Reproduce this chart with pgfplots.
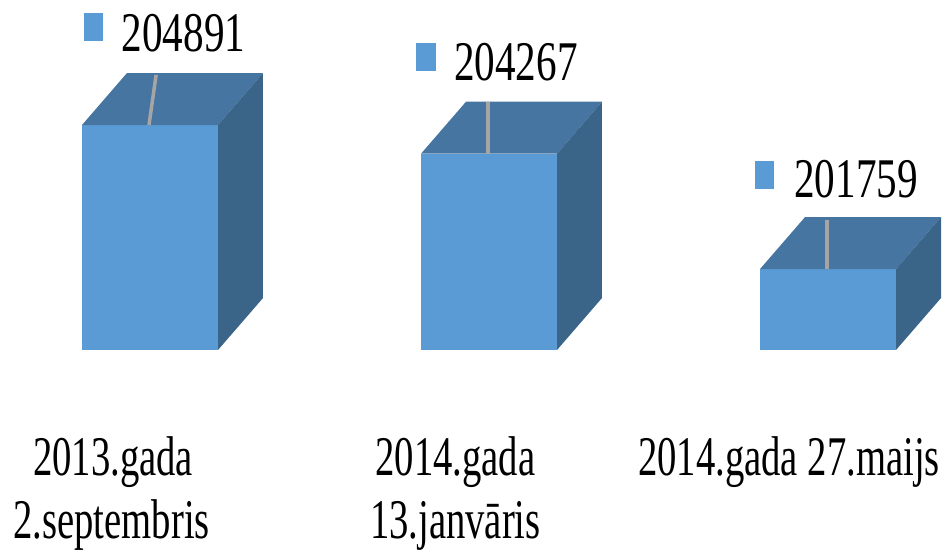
\documentclass[border=0pt]{standalone}
\usepackage{pgfplots}
\usepackage{fontspec}
\pgfplotsset{compat=1.18}
\newfontfamily\lab[FakeStretch=0.69]{Liberation Serif}
\newfontfamily\labv[FakeStretch=0.735]{Liberation Serif}
\definecolor{front}{HTML}{5B9BD5}
\definecolor{topf}{HTML}{4675A2}
\definecolor{sidef}{HTML}{3A6488}
\definecolor{lead}{HTML}{A5A5A5}
\tikzset{lbl/.style={anchor=base, font=\lab\fontsize{56}{60}\selectfont, text=black, inner sep=0pt, outer sep=0pt},
         val/.style={anchor=base, font=\labv\fontsize{56}{60}\selectfont, text=black, inner sep=0pt, outer sep=0pt}}
\begin{document}
\begin{tikzpicture}
\path[use as bounding box] (0,0) rectangle (945pt,551pt);
\begin{axis}[
  at={(0,0)}, anchor=south west,
  scale only axis, width=945pt, height=551pt,
  xmin=-0.44248, xmax=2.34513, ymin=195630, ymax=207609,
  hide axis, clip=false,
]
% fronts
\addplot[fill=front,draw=none] coordinates {(-0.2006,200000)(0.2006,200000)(0.2006,204891)(-0.2006,204891)} -- cycle;
\addplot[fill=front,draw=none] coordinates {(0.7994,200000)(1.2006,200000)(1.2006,204267)(0.7994,204267)} -- cycle;
\addplot[fill=front,draw=none] coordinates {(1.7994,200000)(2.2006,200000)(2.2006,201759)(1.7994,201759)} -- cycle;
% tops
\addplot[fill=topf,draw=none] coordinates {(-0.2006,204891)(0.2006,204891)(0.3333,206021)(-0.0679,206021)} -- cycle;
\addplot[fill=topf,draw=none] coordinates {(0.7994,204267)(1.2006,204267)(1.3333,205397)(0.9321,205397)} -- cycle;
\addplot[fill=topf,draw=none] coordinates {(1.7994,201759)(2.2006,201759)(2.3333,202889)(1.9321,202889)} -- cycle;
% sides
\addplot[fill=sidef,draw=none] coordinates {(0.2006,200000)(0.3333,201130)(0.3333,206021)(0.2006,204891)} -- cycle;
\addplot[fill=sidef,draw=none] coordinates {(1.2006,200000)(1.3333,201130)(1.3333,205397)(1.2006,204267)} -- cycle;
\addplot[fill=sidef,draw=none] coordinates {(2.2006,200000)(2.3333,201130)(2.3333,202889)(2.2006,201759)} -- cycle;
% leader lines
\addplot[lead,line width=3.5pt] coordinates {(-0.003,204891)(0.018,205980)};
\addplot[lead,line width=3.5pt] coordinates {(0.997,204267)(0.997,205397)};
\addplot[lead,line width=3.5pt] coordinates {(1.997,201759)(1.997,202826)};
% legend keys
\addplot[only marks,mark=square*,mark size=13.5pt,mark options={xscale=0.7,fill=front,draw=front,line width=0pt}] coordinates {(-0.1667,207022)(0.8142,206370)(1.8127,203804)};
% value labels
\node[val] at (axis cs:0.0988,206500) {204891};
\node[val] at (axis cs:1.0796,205850) {204267};
\node[val] at (axis cs:2.0826,203305) {201759};
% category labels
\node[lbl] at (axis cs:-0.1090,197280) {2013.gada};
\node[lbl] at (axis cs:-0.1130,195900) {2.septembris};
\node[lbl] at (axis cs:0.9010,197280) {2014.gada};
\node[lbl] at (axis cs:0.9010,195900) {13.janvāris};
\node[lbl] at (axis cs:1.8850,197280) {2014.gada 27.maijs};
\end{axis}
\end{tikzpicture}
\end{document}
